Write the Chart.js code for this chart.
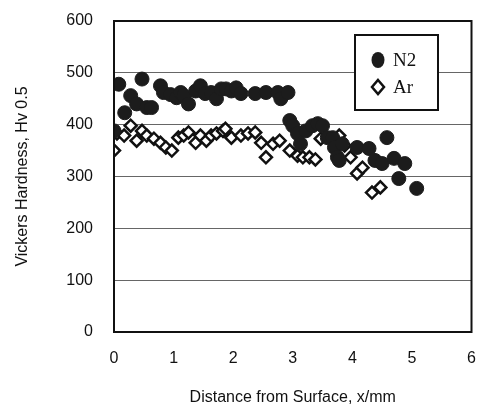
<!DOCTYPE html>
<html>
<head>
<meta charset="utf-8">
<script src="https://cdn.jsdelivr.net/npm/chart.js@4/dist/chart.umd.min.js"></script>
<style>
  html, body { margin: 0; padding: 0; background: #fff; }
  #wrap { width: 480px; height: 414px; }
</style>
</head>
<body>
<div id="wrap"><canvas id="myChart" width="480" height="414"></canvas></div>
<script>
// hardness profiles
var n2X = [0, 0.08, 0.18, 0.28, 0.38, 0.47, 0.55, 0.63, 0.78, 0.83, 0.95, 1.05, 1.12, 1.17, 1.25, 1.37, 1.45, 1.53, 1.63, 1.72, 1.8, 1.88,
           1.97, 2.05, 2.13, 2.37, 2.55, 2.75, 2.8, 2.92, 2.95, 3.0, 3.08, 3.13, 3.22, 3.33, 3.42, 3.5, 3.58, 3.67, 3.7, 3.75, 3.78, 3.83,
           4.08, 4.28, 4.38, 4.5, 4.58, 4.7, 4.78, 4.88, 5.08];
var n2Y = [388, 478, 423, 456, 440, 488, 433, 433, 475, 462, 458, 452, 462, 456, 440, 465, 475, 460, 462, 450, 469, 469,
           465, 471, 460, 460, 462, 462, 450, 462, 408, 398, 383, 363, 388, 398, 402, 398, 375, 375, 356, 337, 331, 363,
           356, 354, 331, 325, 375, 335, 296, 325, 277];
var arX = [0, 0.05, 0.17, 0.28, 0.38, 0.47, 0.55, 0.67, 0.78, 0.87, 0.97, 1.08, 1.17, 1.25, 1.37, 1.45, 1.55, 1.63, 1.72, 1.83,
           1.87, 1.97, 2.13, 2.25, 2.37, 2.47, 2.55, 2.67, 2.78, 2.95, 3.08, 3.17, 3.28, 3.38, 3.47, 3.67, 3.78, 3.87, 3.97,
           4.08, 4.17, 4.33, 4.47];
var arY = [350, 383, 379, 398, 369, 388, 379, 373, 365, 356, 350, 375, 379, 385, 365, 379, 369, 379, 383, 388,
           392, 375, 379, 383, 385, 365, 337, 363, 369, 350, 340, 337, 337, 333, 373, 373, 379, 360, 337,
           306, 317, 269, 279];
var seriesNames = ['N2', 'Ar'];
var xTicks = [0, 1, 2, 3, 4, 5, 6];
var yTicks = [0, 100, 200, 300, 400, 500, 600];

function pts(xs, ys) {
    var out = [];
    for (var i = 0; i < xs.length; i++) out.push({x: xs[i], y: ys[i]});
    return out;
}

// box around plot + legend box inside it
var framePlugin = {
    id: 'frame',
    afterDraw: function (chart) {
        var ctx = chart.ctx;
        var a = chart.chartArea;
        ctx.save();
        ctx.strokeStyle = '#111';
        ctx.lineWidth = 2;
        ctx.strokeRect(a.left, a.top, a.right - a.left, a.bottom - a.top);

        var lx = a.left + 241, ly = a.top + 14, lw = 83, lh = 75;
        ctx.fillStyle = '#fff';
        ctx.fillRect(lx, ly, lw, lh);
        ctx.strokeRect(lx, ly, lw, lh);
        ctx.font = '19px "Liberation Serif", serif';
        ctx.textBaseline = 'middle';
        chart.data.datasets.forEach(function (ds, i) {
            var cy = ly + 25 + i * 27;
            var cx = lx + 23;
            ctx.beginPath();
            if (ds.pointStyle === 'circle') {
                ctx.ellipse(cx, cy, 6.5, 8, 0, 0, Math.PI * 2);
                ctx.fillStyle = ds.backgroundColor;
                ctx.fill();
            } else {
                ctx.moveTo(cx, cy - 7);
                ctx.lineTo(cx + 6, cy);
                ctx.lineTo(cx, cy + 7);
                ctx.lineTo(cx - 6, cy);
                ctx.closePath();
                ctx.lineWidth = 2.5;
                ctx.stroke();
            }
            ctx.fillStyle = '#111';
            ctx.fillText(ds.label, cx + 15, cy + 1);
        });
        ctx.restore();
    }
};

var ctx = document.getElementById('myChart').getContext('2d');
var chart = new Chart(ctx, {
    type: 'scatter',
    data: {
        datasets: [{
            label: seriesNames[0],
            data: pts(n2X, n2Y),
            pointStyle: 'circle',
            pointRadius: 7,
            backgroundColor: '#1c1c1c',
            borderColor: '#1c1c1c',
            borderWidth: 1
        }, {
            label: seriesNames[1],
            data: pts(arX, arY),
            pointStyle: 'rectRot',
            pointRadius: 6,
            backgroundColor: '#fff',
            borderColor: '#111',
            borderWidth: 2.5
        }]
    },
    options: {
        responsive: false,
        animation: false,
        layout: { padding: { left: 9, right: 4, top: 21, bottom: 3 } },
        plugins: { legend: { display: false }, tooltip: { enabled: false } },
        scales: {
            x: {
                type: 'linear', min: 0, max: 6,
                afterBuildTicks: function (s) { s.ticks = xTicks.map(function (v) { return {value: v}; }); },
                afterFit: function (s) { s.height = 79; s.paddingRight = 0; s.paddingLeft = 0; },
                grid: { display: false, drawTicks: false },
                border: { display: false },
                ticks: { color: '#111', padding: 17, font: { family: '"Liberation Sans", Arial', size: 16 } },
                title: { display: true, text: 'Distance from Surface, x/mm', color: '#111',
                         padding: { top: 23 }, font: { family: '"Liberation Sans", Arial', size: 16 } }
            },
            y: {
                min: 0, max: 600,
                afterBuildTicks: function (s) { s.ticks = yTicks.map(function (v) { return {value: v}; }); },
                afterFit: function (s) { s.width = 105; s.paddingTop = 0; s.paddingBottom = 0; },
                grid: { color: '#666', lineWidth: 1, drawTicks: false },
                border: { display: false },
                ticks: { color: '#111', padding: 21, font: { family: '"Liberation Sans", Arial', size: 16 } },
                title: { display: true, text: 'Vickers Hardness, Hv 0.5', color: '#111',
                         padding: { bottom: 0 }, font: { family: '"Liberation Sans", Arial', size: 16 } }
            }
        }
    },
    plugins: [framePlugin]
});
</script>
</body>
</html>
